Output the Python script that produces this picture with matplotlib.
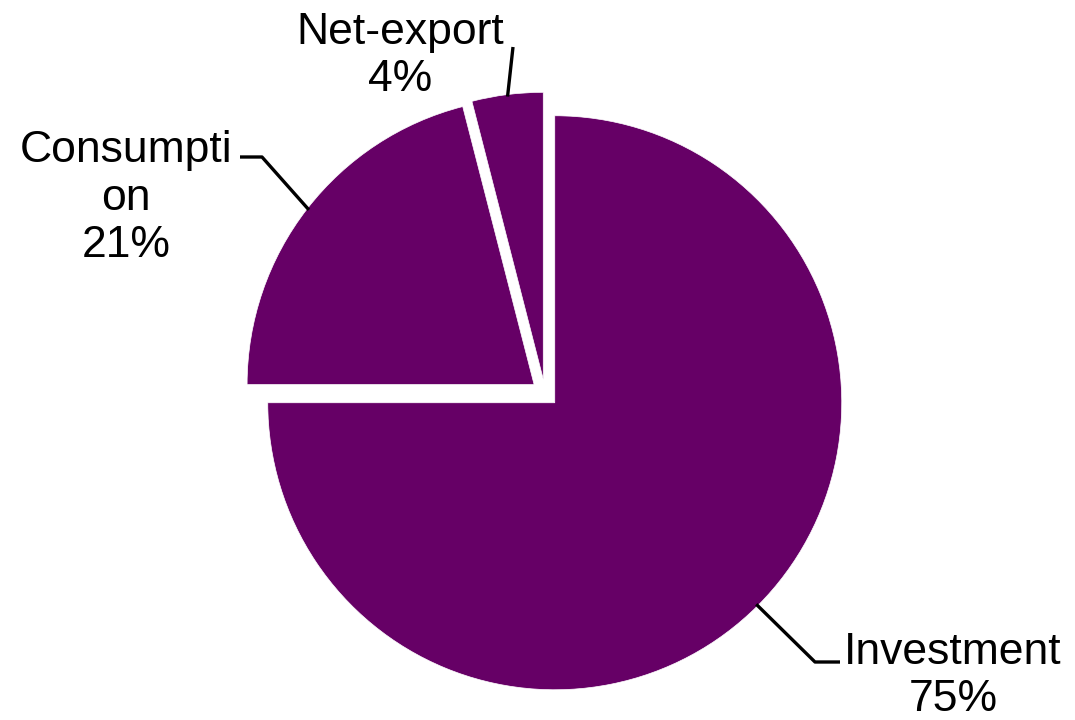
import numpy as np
import matplotlib
matplotlib.use("Agg")
import matplotlib.pyplot as plt

# ---- data ----
categories = ["Investment", "Consumption", "Net-export"]
label_text = ["Investment", "Consumpti\non", "Net-export"]
values = [75, 21, 4]
color = "#660066"

plt.rcParams['font.family'] = ['Liberation Sans', 'DejaVu Sans']

W, H = 1075, 720
fig = plt.figure(figsize=(W / 100, H / 100), dpi=100)
ax = fig.add_axes([0, 0, 1, 1])

cx, cy = 545, H - 393
radius = 287
expl = 13.8  # absolute data units

wedges, _ = ax.pie(values, colors=[color] * len(values), startangle=90,
                   counterclock=False, radius=radius, center=(cx, cy),
                   explode=[expl] * len(values),
                   wedgeprops=dict(edgecolor='white', linewidth=0.5),
                   frame=True)
ax.set_xlim(0, W)
ax.set_ylim(0, H)
ax.set_aspect('equal')
ax.axis('off')

# label layout (pixel coords from top-left)
# (text center x, last-line baseline y, elbow / end points of leader)
layout = {
    "Investment": dict(tx=953, ty=711, pts=[(815, 662), (840, 662)]),
    "Consumption": dict(tx=126, ty=257, pts=[(262, 157), (240, 157)]),
    "Net-export": dict(tx=400, ty=91, pts=[(513, 47)]),
}

for w, cat, lab, v in zip(wedges, categories, label_text, values):
    ang = np.deg2rad((w.theta1 + w.theta2) / 2)
    rr = radius + expl - 2
    sx = cx + rr * np.cos(ang)
    sy = cy + rr * np.sin(ang)
    L = layout[cat]
    xs = [sx] + [p[0] for p in L["pts"]]
    ys = [sy] + [H - p[1] for p in L["pts"]]
    ax.plot(xs, ys, color='black', lw=2.4, solid_capstyle='butt')
    ax.text(L["tx"], H - L["ty"], f"{lab}\n{v}%", ha='center', va='baseline',
            fontsize=32, color='black', multialignment='center')

fig.savefig("out.png", dpi=100)
